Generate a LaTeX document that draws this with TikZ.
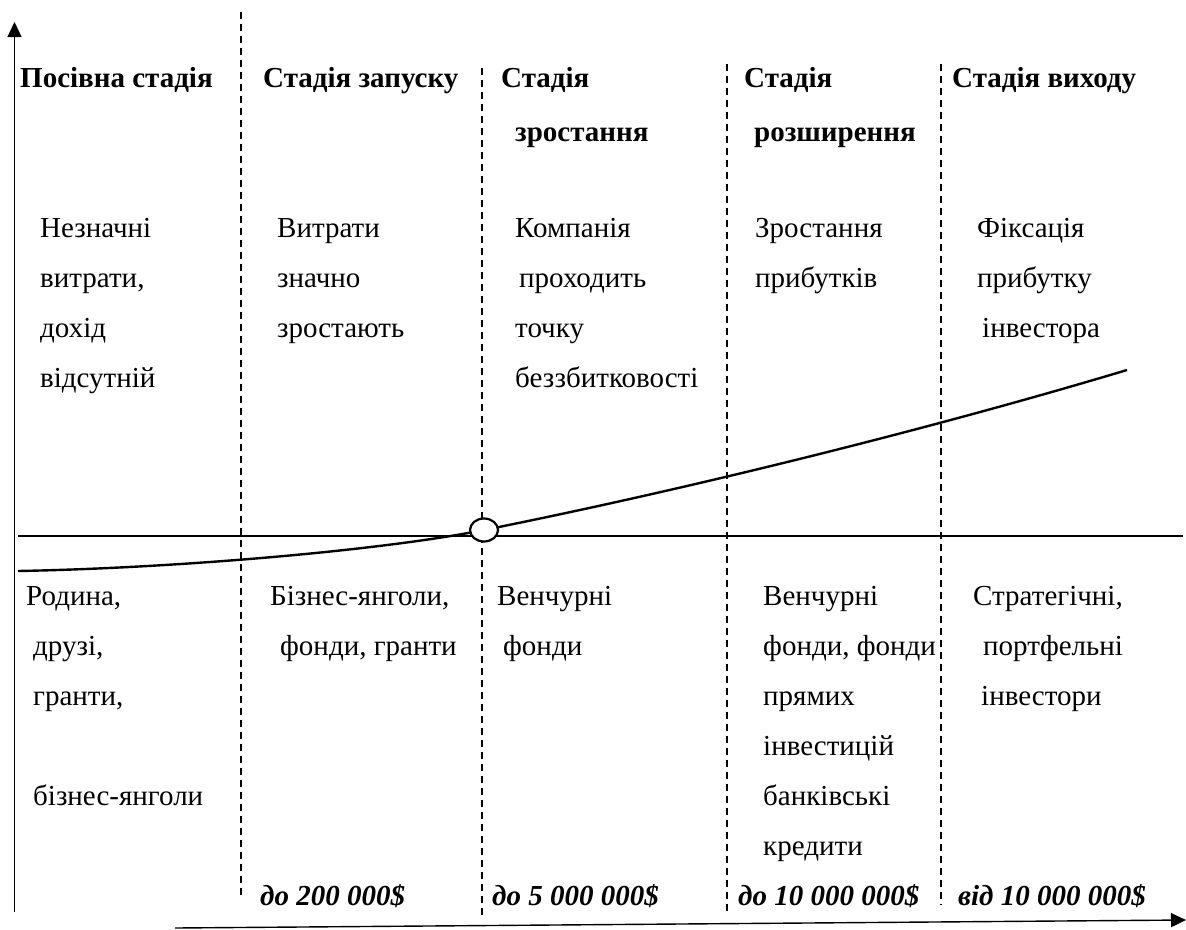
\documentclass[tikz,border=0pt]{standalone}
\usepackage{fontspec}
\setmainfont{Liberation Serif}
\usetikzlibrary{arrows.meta,shapes.geometric}

\begin{document}
\begin{tikzpicture}[x=1pt,y=-1pt]
   \tikzstyle{txt}=[inner sep=0pt,align=left,anchor=base west,font=\fontsize{29}{50}\selectfont]
   \tikzstyle{head}=[txt,font=\fontsize{29}{54}\selectfont\bfseries]
   \tikzstyle{sum}=[txt,font=\fontsize{29}{35}\selectfont\bfseries\itshape]
   \tikzstyle{border}=[draw,line width=1.2pt,dash pattern=on 7pt off 5pt]
   \tikzstyle{axis}=[draw,line width=1.4pt,-{Triangle[length=15pt,width=14pt]}]
   \tikzstyle{curve}=[draw,line width=2.4pt]
   \tikzstyle{bep}=[draw,ellipse,fill=white,line width=2.2pt,inner sep=0pt,minimum width=28pt,minimum height=23pt]
   \useasboundingbox (0,0) rectangle (1186,929);
   % axes
   \coordinate (o) at (14.5,912);
   \coordinate (top) at (14.5,22);
   \coordinate (xs) at (175,928);
   \coordinate (xe) at (1186,920);
   \path [axis] (o) -- (top) ;
   \path [axis] (xs) -- (xe) ;
   % stage borders
   \path [border] (241,12) -- (241,898) ;
   \path [border] (482,68) -- (482,915) ;
   \path [border] (727,64) -- (727,915) ;
   \path [border] (941,64) -- (941,905) ;
   % zero line and result curve
   \path [draw,line width=1.1pt] (18,536) -- (1183,536) ;
   \coordinate (bepc) at (484,530);
   \path [curve] (18,571) .. controls (180,568) and (384,550) .. (bepc)
      .. controls (684,490) and (927,430) .. (1127,370) ;
   \node (bep) [bep] at (bepc) {} ;
   % stage names (base = last line)
   \node (seed) [head] at (20,87) {Посівна стадія} ;
   \node (launch) [head] at (263,87) {Стадія запуску} ;
   \node (growth) [head] at (501,141) {Стадія\\\hspace{14pt}зростання} ;
   \node (expand) [head] at (744,141) {Стадія\\\hspace{10pt}розширення} ;
   \node (exit) [head] at (952,87) {Стадія виходу} ;
   % costs and income
   \node (cost1) [txt] at (40,387) {Незначні\\витрати,\\дохід\\відсутній} ;
   \node (cost2) [txt] at (277,337) {Витрати\\значно\\зростають} ;
   \node (cost3) [txt] at (515,387) {Компанія\\\hspace{4pt}проходить\\точку\\беззбитковості} ;
   \node (cost4) [txt] at (755,287) {Зростання\\прибутків} ;
   \node (cost5) [txt] at (977,337) {Фіксація\\прибутку\\\hspace{5pt}інвестора} ;
   % sources of funds
   \node (fund1) [txt] at (26,805) {Родина,\\\hspace{7pt}друзі,\\\hspace{7pt}гранти,\\\mbox{}\\\hspace{7pt}бізнес-янголи} ;
   \node (fund2) [txt] at (270,655) {Бізнес-янголи,\\\hspace{10pt}фонди, гранти} ;
   \node (fund3) [txt] at (497,655) {Венчурні\\\hspace{6pt}фонди} ;
   \node (fund4) [txt] at (763,855) {Венчурні\\фонди, фонди\\прямих\\інвестицій\\банківські\\кредити} ;
   \node (fund5) [txt] at (973,705) {Стратегічні,\\\hspace{10pt}портфельні\\\hspace{8pt}інвестори} ;
   % amounts
   \node (sum2) [sum] at (260,905) {до 200 000\$} ;
   \node (sum3) [sum] at (492,905) {до 5 000 000\$} ;
   \node (sum4) [sum] at (738,905) {до 10 000 000\$} ;
   \node (sum5) [sum] at (958,905) {від 10 000 000\$} ;
\end{tikzpicture}
\end{document}
